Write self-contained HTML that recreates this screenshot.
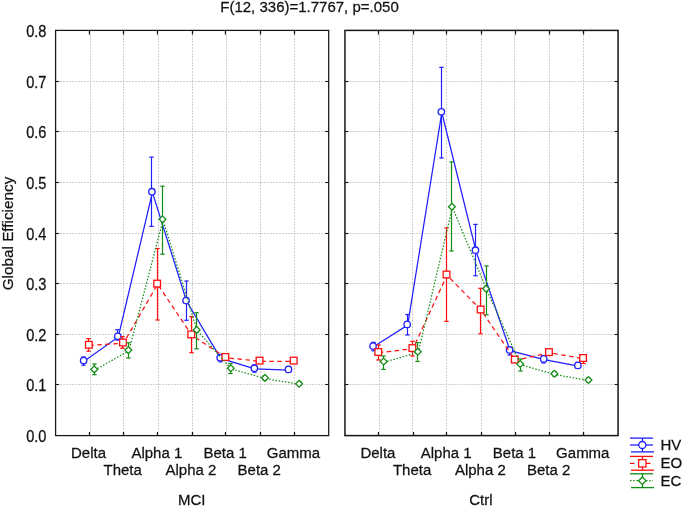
<!DOCTYPE html>
<html><head><meta charset="utf-8"><style>
html,body{margin:0;padding:0;background:#fff;}
svg{display:block;will-change:transform;}
text{font-family:"Liberation Sans", sans-serif;}
</style></head><body>
<svg width="684" height="507" viewBox="0 0 684 507">
<rect width="684" height="507" fill="#fff"/>
<g stroke="#cbcbcb" stroke-width="1" stroke-dasharray="1.8 1.2"><line x1="90.5" y1="35" x2="90.5" y2="432" /><line x1="123.5" y1="35" x2="123.5" y2="432" /><line x1="158.5" y1="35" x2="158.5" y2="432" /><line x1="192.5" y1="35" x2="192.5" y2="432" /><line x1="226.5" y1="35" x2="226.5" y2="432" /><line x1="260.5" y1="35" x2="260.5" y2="432" /><line x1="294.5" y1="35" x2="294.5" y2="432" /><line x1="60.1" y1="384.5" x2="324.7" y2="384.5" /><line x1="60.1" y1="334.5" x2="324.7" y2="334.5" /><line x1="60.1" y1="283.5" x2="324.7" y2="283.5" /><line x1="60.1" y1="233.5" x2="324.7" y2="233.5" /><line x1="60.1" y1="182.5" x2="324.7" y2="182.5" /><line x1="60.1" y1="131.5" x2="324.7" y2="131.5" /><line x1="60.1" y1="81.5" x2="324.7" y2="81.5" /><line x1="379.5" y1="35" x2="379.5" y2="432" /><line x1="412.5" y1="35" x2="412.5" y2="432" /><line x1="446.5" y1="35" x2="446.5" y2="432" /><line x1="481.5" y1="35" x2="481.5" y2="432" /><line x1="514.5" y1="35" x2="514.5" y2="432" /><line x1="549.5" y1="35" x2="549.5" y2="432" /><line x1="583.5" y1="35" x2="583.5" y2="432" /><line x1="349.45" y1="384.5" x2="614.05" y2="384.5" /><line x1="349.45" y1="334.5" x2="614.05" y2="334.5" /><line x1="349.45" y1="283.5" x2="614.05" y2="283.5" /><line x1="349.45" y1="233.5" x2="614.05" y2="233.5" /><line x1="349.45" y1="182.5" x2="614.05" y2="182.5" /><line x1="349.45" y1="131.5" x2="614.05" y2="131.5" /><line x1="349.45" y1="81.5" x2="614.05" y2="81.5" /></g>
<g stroke="#161616" stroke-width="1.1" fill="none"><rect x="55.6" y="30.4" width="273.10" height="405.2" fill="none" stroke-width="1.25"/><line x1="89.5" y1="30" x2="89.5" y2="34.5" stroke-width="1.3"/><line x1="89.5" y1="436" x2="89.5" y2="432" stroke-width="1.3"/><line x1="123.5" y1="30" x2="123.5" y2="34.5" stroke-width="1.3"/><line x1="123.5" y1="436" x2="123.5" y2="432" stroke-width="1.3"/><line x1="157.5" y1="30" x2="157.5" y2="34.5" stroke-width="1.3"/><line x1="157.5" y1="436" x2="157.5" y2="432" stroke-width="1.3"/><line x1="192.5" y1="30" x2="192.5" y2="34.5" stroke-width="1.3"/><line x1="192.5" y1="436" x2="192.5" y2="432" stroke-width="1.3"/><line x1="225.5" y1="30" x2="225.5" y2="34.5" stroke-width="1.3"/><line x1="225.5" y1="436" x2="225.5" y2="432" stroke-width="1.3"/><line x1="260.5" y1="30" x2="260.5" y2="34.5" stroke-width="1.3"/><line x1="260.5" y1="436" x2="260.5" y2="432" stroke-width="1.3"/><line x1="294.5" y1="30" x2="294.5" y2="34.5" stroke-width="1.3"/><line x1="294.5" y1="436" x2="294.5" y2="432" stroke-width="1.3"/><line x1="55.6" y1="384.5" x2="59.1" y2="384.5"/><line x1="328.7" y1="384.5" x2="325.2" y2="384.5"/><line x1="55.6" y1="334.5" x2="59.1" y2="334.5"/><line x1="328.7" y1="334.5" x2="325.2" y2="334.5"/><line x1="55.6" y1="283.5" x2="59.1" y2="283.5"/><line x1="328.7" y1="283.5" x2="325.2" y2="283.5"/><line x1="55.6" y1="233.5" x2="59.1" y2="233.5"/><line x1="328.7" y1="233.5" x2="325.2" y2="233.5"/><line x1="55.6" y1="182.5" x2="59.1" y2="182.5"/><line x1="328.7" y1="182.5" x2="325.2" y2="182.5"/><line x1="55.6" y1="131.5" x2="59.1" y2="131.5"/><line x1="328.7" y1="131.5" x2="325.2" y2="131.5"/><line x1="55.6" y1="81.5" x2="59.1" y2="81.5"/><line x1="328.7" y1="81.5" x2="325.2" y2="81.5"/><rect x="344.95" y="30.4" width="273.10" height="405.2" fill="none" stroke-width="1.5"/><line x1="378.5" y1="30" x2="378.5" y2="34.5" stroke-width="1.3"/><line x1="378.5" y1="436" x2="378.5" y2="432" stroke-width="1.3"/><line x1="413.5" y1="30" x2="413.5" y2="34.5" stroke-width="1.3"/><line x1="413.5" y1="436" x2="413.5" y2="432" stroke-width="1.3"/><line x1="446.5" y1="30" x2="446.5" y2="34.5" stroke-width="1.3"/><line x1="446.5" y1="436" x2="446.5" y2="432" stroke-width="1.3"/><line x1="481.5" y1="30" x2="481.5" y2="34.5" stroke-width="1.3"/><line x1="481.5" y1="436" x2="481.5" y2="432" stroke-width="1.3"/><line x1="515.5" y1="30" x2="515.5" y2="34.5" stroke-width="1.3"/><line x1="515.5" y1="436" x2="515.5" y2="432" stroke-width="1.3"/><line x1="549.5" y1="30" x2="549.5" y2="34.5" stroke-width="1.3"/><line x1="549.5" y1="436" x2="549.5" y2="432" stroke-width="1.3"/><line x1="583.5" y1="30" x2="583.5" y2="34.5" stroke-width="1.3"/><line x1="583.5" y1="436" x2="583.5" y2="432" stroke-width="1.3"/><line x1="344.95" y1="384.5" x2="348.45" y2="384.5"/><line x1="618.05" y1="384.5" x2="614.55" y2="384.5"/><line x1="344.95" y1="334.5" x2="348.45" y2="334.5"/><line x1="618.05" y1="334.5" x2="614.55" y2="334.5"/><line x1="344.95" y1="283.5" x2="348.45" y2="283.5"/><line x1="618.05" y1="283.5" x2="614.55" y2="283.5"/><line x1="344.95" y1="233.5" x2="348.45" y2="233.5"/><line x1="618.05" y1="233.5" x2="614.55" y2="233.5"/><line x1="344.95" y1="182.5" x2="348.45" y2="182.5"/><line x1="618.05" y1="182.5" x2="614.55" y2="182.5"/><line x1="344.95" y1="131.5" x2="348.45" y2="131.5"/><line x1="618.05" y1="131.5" x2="614.55" y2="131.5"/><line x1="344.95" y1="81.5" x2="348.45" y2="81.5"/><line x1="618.05" y1="81.5" x2="614.55" y2="81.5"/></g>
<path d="M84.14 361.20 L118.28 337.00 L152.42 192.40 L186.56 301.30 L220.70 358.40 L254.84 368.90 L288.98 370.10" fill="none" stroke="#1f1fff" stroke-width="1.25" />
<g stroke="#1f1fff" stroke-width="1.2"><line x1="83.5" y1="357.0" x2="83.5" y2="365.2"/><line x1="81.3" y1="357.0" x2="85.7" y2="357.0"/><line x1="81.3" y1="365.2" x2="85.7" y2="365.2"/></g>
<circle cx="83.64" cy="360.50" r="3.20" fill="#fff" stroke="#1f1fff" stroke-width="1.3"/>
<g stroke="#1f1fff" stroke-width="1.2"><line x1="117.5" y1="329.7" x2="117.5" y2="340.0"/><line x1="115.3" y1="329.7" x2="119.7" y2="329.7"/><line x1="115.3" y1="340.0" x2="119.7" y2="340.0"/></g>
<circle cx="117.78" cy="336.30" r="3.20" fill="#fff" stroke="#1f1fff" stroke-width="1.3"/>
<g stroke="#1f1fff" stroke-width="1.2"><line x1="151.5" y1="157.1" x2="151.5" y2="226.4"/><line x1="149.3" y1="157.1" x2="153.7" y2="157.1"/><line x1="149.3" y1="226.4" x2="153.7" y2="226.4"/></g>
<circle cx="151.92" cy="191.70" r="3.20" fill="#fff" stroke="#1f1fff" stroke-width="1.3"/>
<g stroke="#1f1fff" stroke-width="1.2"><line x1="186.5" y1="281.0" x2="186.5" y2="320.3"/><line x1="184.3" y1="281.0" x2="188.7" y2="281.0"/><line x1="184.3" y1="320.3" x2="188.7" y2="320.3"/></g>
<circle cx="186.06" cy="300.60" r="3.20" fill="#fff" stroke="#1f1fff" stroke-width="1.3"/>
<g stroke="#1f1fff" stroke-width="1.2"><line x1="220.5" y1="354.5" x2="220.5" y2="361.8"/><line x1="218.3" y1="354.5" x2="222.7" y2="354.5"/><line x1="218.3" y1="361.8" x2="222.7" y2="361.8"/></g>
<circle cx="220.20" cy="357.70" r="3.20" fill="#fff" stroke="#1f1fff" stroke-width="1.3"/>
<g stroke="#1f1fff" stroke-width="1.2"><line x1="254.5" y1="365.0" x2="254.5" y2="372.2"/><line x1="252.3" y1="365.0" x2="256.7" y2="365.0"/><line x1="252.3" y1="372.2" x2="256.7" y2="372.2"/></g>
<circle cx="254.34" cy="368.20" r="3.20" fill="#fff" stroke="#1f1fff" stroke-width="1.3"/>
<g stroke="#1f1fff" stroke-width="1.2"><line x1="288.5" y1="366.5" x2="288.5" y2="372.0"/><line x1="286.3" y1="366.5" x2="290.7" y2="366.5"/><line x1="286.3" y1="372.0" x2="290.7" y2="372.0"/></g>
<circle cx="288.48" cy="369.40" r="3.20" fill="#fff" stroke="#1f1fff" stroke-width="1.3"/>
<path d="M89.34 345.50 L123.48 343.20 L157.62 284.30 L191.76 335.10 L225.90 357.70 L260.04 361.30 L294.18 361.30" fill="none" stroke="#ff0d0d" stroke-width="1.25" stroke-dasharray="4.5 3.5"/>
<g stroke="#ff0d0d" stroke-width="1.2"><line x1="88.5" y1="338.6" x2="88.5" y2="351.2"/><line x1="86.3" y1="338.6" x2="90.7" y2="338.6"/><line x1="86.3" y1="351.2" x2="90.7" y2="351.2"/></g>
<rect x="85.49" y="341.45" width="6.70" height="6.70" fill="#fff" stroke="#ff0d0d" stroke-width="1.3"/>
<g stroke="#ff0d0d" stroke-width="1.2"><line x1="122.5" y1="336.6" x2="122.5" y2="348.3"/><line x1="120.3" y1="336.6" x2="124.7" y2="336.6"/><line x1="120.3" y1="348.3" x2="124.7" y2="348.3"/></g>
<rect x="119.63" y="339.15" width="6.70" height="6.70" fill="#fff" stroke="#ff0d0d" stroke-width="1.3"/>
<g stroke="#ff0d0d" stroke-width="1.2"><line x1="157.5" y1="248.5" x2="157.5" y2="320.0"/><line x1="155.3" y1="248.5" x2="159.7" y2="248.5"/><line x1="155.3" y1="320.0" x2="159.7" y2="320.0"/></g>
<rect x="153.77" y="280.25" width="6.70" height="6.70" fill="#fff" stroke="#ff0d0d" stroke-width="1.3"/>
<g stroke="#ff0d0d" stroke-width="1.2"><line x1="191.5" y1="316.6" x2="191.5" y2="352.7"/><line x1="189.3" y1="316.6" x2="193.7" y2="316.6"/><line x1="189.3" y1="352.7" x2="193.7" y2="352.7"/></g>
<rect x="187.91" y="331.05" width="6.70" height="6.70" fill="#fff" stroke="#ff0d0d" stroke-width="1.3"/>
<g stroke="#ff0d0d" stroke-width="1.2"><line x1="225.5" y1="354.5" x2="225.5" y2="360.0"/><line x1="223.3" y1="354.5" x2="227.7" y2="354.5"/><line x1="223.3" y1="360.0" x2="227.7" y2="360.0"/></g>
<rect x="222.05" y="353.65" width="6.70" height="6.70" fill="#fff" stroke="#ff0d0d" stroke-width="1.3"/>
<g stroke="#ff0d0d" stroke-width="1.2"><line x1="259.5" y1="358.0" x2="259.5" y2="363.0"/><line x1="257.3" y1="358.0" x2="261.7" y2="358.0"/><line x1="257.3" y1="363.0" x2="261.7" y2="363.0"/></g>
<rect x="256.19" y="357.25" width="6.70" height="6.70" fill="#fff" stroke="#ff0d0d" stroke-width="1.3"/>
<g stroke="#ff0d0d" stroke-width="1.2"><line x1="293.5" y1="358.0" x2="293.5" y2="363.0"/><line x1="291.3" y1="358.0" x2="295.7" y2="358.0"/><line x1="291.3" y1="363.0" x2="295.7" y2="363.0"/></g>
<rect x="290.33" y="357.25" width="6.70" height="6.70" fill="#fff" stroke="#ff0d0d" stroke-width="1.3"/>
<path d="M94.74 370.10 L128.88 350.80 L163.02 220.00 L197.16 330.60 L231.30 369.00 L265.44 378.60 L299.58 384.40" fill="none" stroke="#158c15" stroke-width="1.25" stroke-dasharray="1.5 1.7"/>
<g stroke="#158c15" stroke-width="1.2"><line x1="94.5" y1="364.0" x2="94.5" y2="374.7"/><line x1="92.3" y1="364.0" x2="96.7" y2="364.0"/><line x1="92.3" y1="374.7" x2="96.7" y2="374.7"/></g>
<path d="M94.24 366.00L97.64 369.40L94.24 372.80L90.84 369.40Z" fill="#fff" stroke="#158c15" stroke-width="1.3"/>
<g stroke="#158c15" stroke-width="1.2"><line x1="128.5" y1="342.8" x2="128.5" y2="358.0"/><line x1="126.3" y1="342.8" x2="130.7" y2="342.8"/><line x1="126.3" y1="358.0" x2="130.7" y2="358.0"/></g>
<path d="M128.38 346.70L131.78 350.10L128.38 353.50L124.98 350.10Z" fill="#fff" stroke="#158c15" stroke-width="1.3"/>
<g stroke="#158c15" stroke-width="1.2"><line x1="162.5" y1="186.2" x2="162.5" y2="254.2"/><line x1="160.3" y1="186.2" x2="164.7" y2="186.2"/><line x1="160.3" y1="254.2" x2="164.7" y2="254.2"/></g>
<path d="M162.52 215.90L165.92 219.30L162.52 222.70L159.12 219.30Z" fill="#fff" stroke="#158c15" stroke-width="1.3"/>
<g stroke="#158c15" stroke-width="1.2"><line x1="196.5" y1="312.7" x2="196.5" y2="348.8"/><line x1="194.3" y1="312.7" x2="198.7" y2="312.7"/><line x1="194.3" y1="348.8" x2="198.7" y2="348.8"/></g>
<path d="M196.66 326.50L200.06 329.90L196.66 333.30L193.26 329.90Z" fill="#fff" stroke="#158c15" stroke-width="1.3"/>
<g stroke="#158c15" stroke-width="1.2"><line x1="230.5" y1="363.5" x2="230.5" y2="373.5"/><line x1="228.3" y1="363.5" x2="232.7" y2="363.5"/><line x1="228.3" y1="373.5" x2="232.7" y2="373.5"/></g>
<path d="M230.80 364.90L234.20 368.30L230.80 371.70L227.40 368.30Z" fill="#fff" stroke="#158c15" stroke-width="1.3"/>
<g stroke="#158c15" stroke-width="1.2"><line x1="264.5" y1="376.0" x2="264.5" y2="380.0"/><line x1="262.3" y1="376.0" x2="266.7" y2="376.0"/><line x1="262.3" y1="380.0" x2="266.7" y2="380.0"/></g>
<path d="M264.94 374.50L268.34 377.90L264.94 381.30L261.54 377.90Z" fill="#fff" stroke="#158c15" stroke-width="1.3"/>
<g stroke="#158c15" stroke-width="1.2"><line x1="299.5" y1="382.0" x2="299.5" y2="385.5"/><line x1="297.3" y1="382.0" x2="301.7" y2="382.0"/><line x1="297.3" y1="385.5" x2="301.7" y2="385.5"/></g>
<path d="M299.08 380.30L302.48 383.70L299.08 387.10L295.68 383.70Z" fill="#fff" stroke="#158c15" stroke-width="1.3"/>
<path d="M373.54 346.80 L407.68 325.10 L441.82 112.50 L475.96 250.90 L510.10 350.70 L544.24 359.60 L578.38 366.10" fill="none" stroke="#1f1fff" stroke-width="1.25" />
<g stroke="#1f1fff" stroke-width="1.2"><line x1="373.5" y1="342.3" x2="373.5" y2="350.8"/><line x1="371.3" y1="342.3" x2="375.7" y2="342.3"/><line x1="371.3" y1="350.8" x2="375.7" y2="350.8"/></g>
<circle cx="373.04" cy="346.10" r="3.20" fill="#fff" stroke="#1f1fff" stroke-width="1.3"/>
<g stroke="#1f1fff" stroke-width="1.2"><line x1="407.5" y1="314.5" x2="407.5" y2="335.0"/><line x1="405.3" y1="314.5" x2="409.7" y2="314.5"/><line x1="405.3" y1="335.0" x2="409.7" y2="335.0"/></g>
<circle cx="407.18" cy="324.40" r="3.20" fill="#fff" stroke="#1f1fff" stroke-width="1.3"/>
<g stroke="#1f1fff" stroke-width="1.2"><line x1="441.5" y1="67.4" x2="441.5" y2="158.0"/><line x1="439.3" y1="67.4" x2="443.7" y2="67.4"/><line x1="439.3" y1="158.0" x2="443.7" y2="158.0"/></g>
<circle cx="441.32" cy="111.80" r="3.20" fill="#fff" stroke="#1f1fff" stroke-width="1.3"/>
<g stroke="#1f1fff" stroke-width="1.2"><line x1="475.5" y1="224.4" x2="475.5" y2="275.8"/><line x1="473.3" y1="224.4" x2="477.7" y2="224.4"/><line x1="473.3" y1="275.8" x2="477.7" y2="275.8"/></g>
<circle cx="475.46" cy="250.20" r="3.20" fill="#fff" stroke="#1f1fff" stroke-width="1.3"/>
<g stroke="#1f1fff" stroke-width="1.2"><line x1="509.5" y1="347.0" x2="509.5" y2="355.0"/><line x1="507.3" y1="347.0" x2="511.7" y2="347.0"/><line x1="507.3" y1="355.0" x2="511.7" y2="355.0"/></g>
<circle cx="509.60" cy="350.00" r="3.20" fill="#fff" stroke="#1f1fff" stroke-width="1.3"/>
<g stroke="#1f1fff" stroke-width="1.2"><line x1="543.5" y1="356.0" x2="543.5" y2="363.0"/><line x1="541.3" y1="356.0" x2="545.7" y2="356.0"/><line x1="541.3" y1="363.0" x2="545.7" y2="363.0"/></g>
<circle cx="543.74" cy="358.90" r="3.20" fill="#fff" stroke="#1f1fff" stroke-width="1.3"/>
<g stroke="#1f1fff" stroke-width="1.2"><line x1="577.5" y1="362.5" x2="577.5" y2="368.0"/><line x1="575.3" y1="362.5" x2="579.7" y2="362.5"/><line x1="575.3" y1="368.0" x2="579.7" y2="368.0"/></g>
<circle cx="577.88" cy="365.40" r="3.20" fill="#fff" stroke="#1f1fff" stroke-width="1.3"/>
<path d="M378.74 352.70 L412.88 348.80 L447.02 275.20 L481.16 310.20 L515.30 360.30 L549.44 352.80 L583.58 358.70" fill="none" stroke="#ff0d0d" stroke-width="1.25" stroke-dasharray="4.5 3.5"/>
<g stroke="#ff0d0d" stroke-width="1.2"><line x1="378.5" y1="345.0" x2="378.5" y2="360.0"/><line x1="376.3" y1="345.0" x2="380.7" y2="345.0"/><line x1="376.3" y1="360.0" x2="380.7" y2="360.0"/></g>
<rect x="374.89" y="348.65" width="6.70" height="6.70" fill="#fff" stroke="#ff0d0d" stroke-width="1.3"/>
<g stroke="#ff0d0d" stroke-width="1.2"><line x1="412.5" y1="341.3" x2="412.5" y2="356.0"/><line x1="410.3" y1="341.3" x2="414.7" y2="341.3"/><line x1="410.3" y1="356.0" x2="414.7" y2="356.0"/></g>
<rect x="409.03" y="344.75" width="6.70" height="6.70" fill="#fff" stroke="#ff0d0d" stroke-width="1.3"/>
<g stroke="#ff0d0d" stroke-width="1.2"><line x1="446.5" y1="227.9" x2="446.5" y2="321.4"/><line x1="444.3" y1="227.9" x2="448.7" y2="227.9"/><line x1="444.3" y1="321.4" x2="448.7" y2="321.4"/></g>
<rect x="443.17" y="271.15" width="6.70" height="6.70" fill="#fff" stroke="#ff0d0d" stroke-width="1.3"/>
<g stroke="#ff0d0d" stroke-width="1.2"><line x1="480.5" y1="288.3" x2="480.5" y2="333.8"/><line x1="478.3" y1="288.3" x2="482.7" y2="288.3"/><line x1="478.3" y1="333.8" x2="482.7" y2="333.8"/></g>
<rect x="477.31" y="306.15" width="6.70" height="6.70" fill="#fff" stroke="#ff0d0d" stroke-width="1.3"/>
<g stroke="#ff0d0d" stroke-width="1.2"><line x1="514.5" y1="357.0" x2="514.5" y2="362.5"/><line x1="512.3" y1="357.0" x2="516.7" y2="357.0"/><line x1="512.3" y1="362.5" x2="516.7" y2="362.5"/></g>
<rect x="511.45" y="356.25" width="6.70" height="6.70" fill="#fff" stroke="#ff0d0d" stroke-width="1.3"/>
<g stroke="#ff0d0d" stroke-width="1.2"><line x1="548.5" y1="349.5" x2="548.5" y2="355.0"/><line x1="546.3" y1="349.5" x2="550.7" y2="349.5"/><line x1="546.3" y1="355.0" x2="550.7" y2="355.0"/></g>
<rect x="545.59" y="348.75" width="6.70" height="6.70" fill="#fff" stroke="#ff0d0d" stroke-width="1.3"/>
<g stroke="#ff0d0d" stroke-width="1.2"><line x1="583.5" y1="355.0" x2="583.5" y2="363.5"/><line x1="581.3" y1="355.0" x2="585.7" y2="355.0"/><line x1="581.3" y1="363.5" x2="585.7" y2="363.5"/></g>
<rect x="579.73" y="354.65" width="6.70" height="6.70" fill="#fff" stroke="#ff0d0d" stroke-width="1.3"/>
<path d="M384.14 362.20 L418.28 352.40 L452.42 207.40 L486.56 289.50 L520.70 364.70 L554.84 374.50 L588.98 380.70" fill="none" stroke="#158c15" stroke-width="1.25" stroke-dasharray="1.5 1.7"/>
<g stroke="#158c15" stroke-width="1.2"><line x1="383.5" y1="356.0" x2="383.5" y2="369.4"/><line x1="381.3" y1="356.0" x2="385.7" y2="356.0"/><line x1="381.3" y1="369.4" x2="385.7" y2="369.4"/></g>
<path d="M383.64 358.10L387.04 361.50L383.64 364.90L380.24 361.50Z" fill="#fff" stroke="#158c15" stroke-width="1.3"/>
<g stroke="#158c15" stroke-width="1.2"><line x1="417.5" y1="342.6" x2="417.5" y2="361.5"/><line x1="415.3" y1="342.6" x2="419.7" y2="342.6"/><line x1="415.3" y1="361.5" x2="419.7" y2="361.5"/></g>
<path d="M417.78 348.30L421.18 351.70L417.78 355.10L414.38 351.70Z" fill="#fff" stroke="#158c15" stroke-width="1.3"/>
<g stroke="#158c15" stroke-width="1.2"><line x1="451.5" y1="161.9" x2="451.5" y2="251.0"/><line x1="449.3" y1="161.9" x2="453.7" y2="161.9"/><line x1="449.3" y1="251.0" x2="453.7" y2="251.0"/></g>
<path d="M451.92 203.30L455.32 206.70L451.92 210.10L448.52 206.70Z" fill="#fff" stroke="#158c15" stroke-width="1.3"/>
<g stroke="#158c15" stroke-width="1.2"><line x1="486.5" y1="265.9" x2="486.5" y2="314.8"/><line x1="484.3" y1="265.9" x2="488.7" y2="265.9"/><line x1="484.3" y1="314.8" x2="488.7" y2="314.8"/></g>
<path d="M486.06 285.40L489.46 288.80L486.06 292.20L482.66 288.80Z" fill="#fff" stroke="#158c15" stroke-width="1.3"/>
<g stroke="#158c15" stroke-width="1.2"><line x1="520.5" y1="359.0" x2="520.5" y2="371.0"/><line x1="518.3" y1="359.0" x2="522.7" y2="359.0"/><line x1="518.3" y1="371.0" x2="522.7" y2="371.0"/></g>
<path d="M520.20 360.60L523.60 364.00L520.20 367.40L516.80 364.00Z" fill="#fff" stroke="#158c15" stroke-width="1.3"/>
<g stroke="#158c15" stroke-width="1.2"><line x1="554.5" y1="372.0" x2="554.5" y2="376.0"/><line x1="552.3" y1="372.0" x2="556.7" y2="372.0"/><line x1="552.3" y1="376.0" x2="556.7" y2="376.0"/></g>
<path d="M554.34 370.40L557.74 373.80L554.34 377.20L550.94 373.80Z" fill="#fff" stroke="#158c15" stroke-width="1.3"/>
<g stroke="#158c15" stroke-width="1.2"><line x1="588.5" y1="378.0" x2="588.5" y2="382.0"/><line x1="586.3" y1="378.0" x2="590.7" y2="378.0"/><line x1="586.3" y1="382.0" x2="590.7" y2="382.0"/></g>
<path d="M588.48 376.60L591.88 380.00L588.48 383.40L585.08 380.00Z" fill="#fff" stroke="#158c15" stroke-width="1.3"/>
<g stroke="#1f1fff" stroke-width="1.3" fill="none"><line x1="630" y1="438.10" x2="653" y2="438.10"/><line x1="631" y1="451.90" x2="654" y2="451.90"/><line x1="642.5" y1="438.10" x2="642.5" y2="451.90"/><line x1="630" y1="445.0" x2="653" y2="445.0" /></g><circle cx="642.30" cy="445.00" r="3.52" fill="#fff" stroke="#1f1fff" stroke-width="1.3"/><g stroke="#ff0d0d" stroke-width="1.3" fill="none"><line x1="630" y1="456.40" x2="653" y2="456.40"/><line x1="631" y1="470.20" x2="654" y2="470.20"/><line x1="642.5" y1="456.40" x2="642.5" y2="470.20"/><line x1="630" y1="463.3" x2="653" y2="463.3" stroke-dasharray="4.5 3.5"/></g><rect x="638.62" y="459.62" width="7.37" height="7.37" fill="#fff" stroke="#ff0d0d" stroke-width="1.3"/><g stroke="#158c15" stroke-width="1.3" fill="none"><line x1="630" y1="473.80" x2="653" y2="473.80"/><line x1="631" y1="487.60" x2="654" y2="487.60"/><line x1="642.5" y1="473.80" x2="642.5" y2="487.60"/><line x1="630" y1="480.7" x2="653" y2="480.7" stroke-dasharray="1.5 1.7"/></g><path d="M642.30 476.96L646.04 480.70L642.30 484.44L638.56 480.70Z" fill="#fff" stroke="#158c15" stroke-width="1.3"/>
<g font-family="Liberation Sans, sans-serif" font-size="15.5" fill="#111" stroke="#111" stroke-width="0.25"><text transform="translate(309.50,12.20) scale(0.9677,1)" text-anchor="middle">F(12, 336)=1.7767, p=.050</text><text font-size="16" transform="translate(46.40,442.10) scale(0.9125,1)" text-anchor="end">0.0</text><text font-size="16" transform="translate(46.40,391.48) scale(0.9125,1)" text-anchor="end">0.1</text><text font-size="16" transform="translate(46.40,340.85) scale(0.9125,1)" text-anchor="end">0.2</text><text font-size="16" transform="translate(46.40,290.23) scale(0.9125,1)" text-anchor="end">0.3</text><text font-size="16" transform="translate(46.40,239.60) scale(0.9125,1)" text-anchor="end">0.4</text><text font-size="16" transform="translate(46.40,188.97) scale(0.9125,1)" text-anchor="end">0.5</text><text font-size="16" transform="translate(46.40,138.35) scale(0.9125,1)" text-anchor="end">0.6</text><text font-size="16" transform="translate(46.40,87.72) scale(0.9125,1)" text-anchor="end">0.7</text><text font-size="16" transform="translate(46.40,37.10) scale(0.9125,1)" text-anchor="end">0.8</text><text transform="translate(13.30,233.50) rotate(-90) scale(0.9871,1)" text-anchor="middle">Global Efficiency</text><text transform="translate(88.54,458.00) scale(0.9677,1)" text-anchor="middle">Delta</text><text transform="translate(122.68,474.90) scale(0.9677,1)" text-anchor="middle">Theta</text><text transform="translate(156.82,458.00) scale(0.9677,1)" text-anchor="middle">Alpha 1</text><text transform="translate(190.96,474.90) scale(0.9677,1)" text-anchor="middle">Alpha 2</text><text transform="translate(225.10,458.00) scale(0.9677,1)" text-anchor="middle">Beta 1</text><text transform="translate(259.24,474.90) scale(0.9677,1)" text-anchor="middle">Beta 2</text><text transform="translate(293.38,458.00) scale(0.9677,1)" text-anchor="middle">Gamma</text><text transform="translate(377.94,458.00) scale(0.9677,1)" text-anchor="middle">Delta</text><text transform="translate(412.08,474.90) scale(0.9677,1)" text-anchor="middle">Theta</text><text transform="translate(446.22,458.00) scale(0.9677,1)" text-anchor="middle">Alpha 1</text><text transform="translate(480.36,474.90) scale(0.9677,1)" text-anchor="middle">Alpha 2</text><text transform="translate(514.50,458.00) scale(0.9677,1)" text-anchor="middle">Beta 1</text><text transform="translate(548.64,474.90) scale(0.9677,1)" text-anchor="middle">Beta 2</text><text transform="translate(582.78,458.00) scale(0.9677,1)" text-anchor="middle">Gamma</text><text transform="translate(191.80,505.00) scale(0.9677,1)" text-anchor="middle">MCI</text><text transform="translate(480.80,505.00) scale(0.9677,1)" text-anchor="middle">Ctrl</text><text transform="translate(660.50,450.10) scale(0.9677,1)">HV</text><text transform="translate(660.50,468.40) scale(0.9677,1)">EO</text><text transform="translate(660.50,485.80) scale(0.9677,1)">EC</text></g>
</svg>
</body></html>
